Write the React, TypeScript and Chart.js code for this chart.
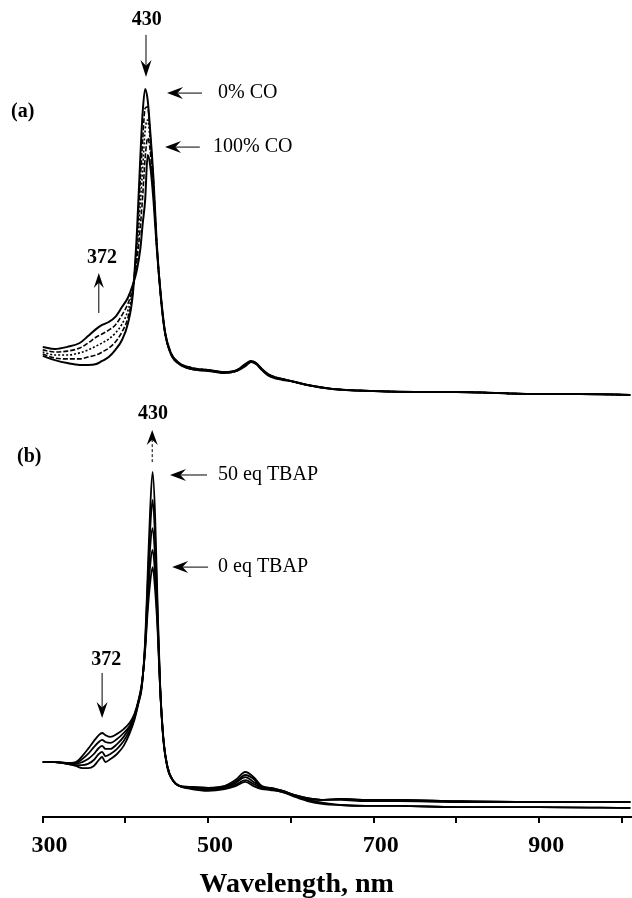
import React, { useEffect, useRef } from 'react';
import { Chart, registerables } from 'chart.js';

Chart.register(...registerables);

// ---------- Panel (a): CO titration, wavelength (nm) ----------
const waveA = [300, 315, 330, 345, 355, 365, 372, 380, 388, 396, 403, 409, 414, 418, 421, 424, 427, 430, 434, 438, 443, 448, 455, 465, 480, 500, 520, 535, 545, 552, 558, 565, 572, 580, 590, 600, 620, 650, 700, 750, 800, 850, 900, 950, 1010];
// relative absorbance (arbitrary units)
const co0 = [14.7, 13.3, 12.3, 11.7, 11.7, 12.0, 13.0, 14.3, 16.7, 20.0, 25.3, 35.0, 55.7, 80.0, 96.0, 103.7, 100.0, 90.0, 74.0, 52.3, 34.0, 22.3, 15.3, 12.0, 10.3, 9.7, 9.0, 9.7, 11.3, 12.7, 12.0, 10.0, 8.3, 7.3, 6.7, 6.3, 5.0, 3.7, 3.0, 2.7, 2.7, 2.3, 2.0, 2.0, 1.7];
const co25 = [15.3, 14.0, 13.7, 13.7, 14.3, 15.0, 16.0, 17.3, 19.3, 22.7, 27.3, 36.0, 52.7, 72.7, 86.7, 97.3, 97.7, 89.0, 73.0, 52.0, 34.0, 22.3, 15.3, 12.0, 10.3, 9.7, 9.0, 9.7, 11.7, 12.7, 12.0, 10.0, 8.3, 7.3, 7.0, 6.3, 5.0, 3.7, 3.0, 2.7, 2.7, 2.3, 2.0, 2.0, 1.7];
const co50 = [16.0, 15.0, 15.0, 15.7, 16.7, 18.0, 19.0, 20.3, 22.3, 25.3, 29.7, 36.7, 49.3, 65.0, 77.3, 90.0, 93.3, 86.7, 71.3, 51.7, 34.3, 22.3, 15.7, 12.3, 10.7, 10.0, 9.3, 10.0, 11.7, 13.0, 12.3, 10.3, 8.7, 7.7, 7.0, 6.3, 5.0, 3.7, 3.0, 2.7, 2.7, 2.3, 2.0, 2.0, 1.7];
const co75 = [16.7, 16.0, 16.3, 17.3, 19.0, 21.0, 22.0, 23.3, 25.0, 28.3, 32.0, 37.3, 46.3, 57.3, 68.0, 80.7, 87.3, 83.3, 69.3, 51.3, 34.3, 22.7, 15.7, 12.3, 10.7, 10.0, 9.3, 10.0, 12.0, 13.0, 12.3, 10.3, 8.7, 7.7, 7.0, 6.3, 5.0, 3.7, 3.0, 2.7, 2.7, 2.3, 2.0, 2.0, 1.7];
const co100 = [17.7, 17.0, 17.7, 19.0, 21.3, 23.7, 25.0, 26.0, 27.7, 31.0, 34.0, 38.3, 43.3, 50.0, 58.7, 66.7, 81.7, 78.3, 66.7, 50.7, 34.7, 22.7, 15.7, 12.3, 10.7, 10.0, 9.3, 10.0, 12.0, 13.0, 12.3, 10.3, 8.7, 7.7, 7.0, 6.3, 5.0, 3.7, 3.0, 2.7, 2.7, 2.3, 2.0, 2.0, 1.7];

// ---------- Panel (b): TBAP titration ----------
const waveB = [300, 315, 330, 340, 348, 355, 362, 368, 372, 376, 382, 390, 398, 405, 411, 416, 420, 424, 427, 430, 433, 436, 439, 442, 446, 451, 458, 466, 480, 500, 520, 533, 545, 555, 565, 575, 590, 605, 620, 640, 660, 690, 730, 800, 900, 1010];
const tbap0 = [18.3, 18.3, 18.0, 18.3, 20.3, 22.7, 25.3, 27.3, 28.0, 27.3, 26.7, 27.7, 29.3, 31.3, 34.3, 39.0, 44.7, 55.7, 68.3, 78.0, 83.3, 75.7, 62.3, 43.0, 25.7, 16.3, 12.0, 10.3, 9.3, 8.7, 9.3, 10.3, 11.7, 10.3, 9.3, 9.0, 8.3, 6.7, 5.3, 4.3, 4.0, 3.7, 3.7, 3.3, 3.3, 3.0];
const tbap1 = [18.3, 18.3, 18.0, 18.0, 19.3, 21.0, 23.3, 25.0, 25.7, 25.0, 24.7, 26.0, 28.0, 30.3, 34.0, 38.7, 44.3, 56.3, 71.3, 83.7, 89.0, 80.7, 64.0, 43.3, 25.7, 16.3, 12.0, 10.3, 9.7, 9.0, 9.7, 10.7, 12.3, 11.0, 9.7, 9.3, 8.3, 7.0, 5.7, 4.7, 4.0, 3.7, 3.7, 3.3, 3.3, 3.0];
const tbap2 = [18.3, 18.3, 18.0, 17.7, 18.3, 19.3, 21.0, 23.0, 23.7, 22.7, 22.7, 24.3, 26.7, 29.7, 33.3, 38.7, 44.0, 57.0, 74.3, 89.7, 96.3, 86.3, 66.0, 43.7, 26.0, 16.7, 12.0, 10.3, 9.7, 9.3, 10.0, 11.3, 13.3, 11.7, 10.0, 9.3, 8.7, 7.0, 6.0, 5.7, 5.7, 5.3, 5.3, 5.0, 5.0, 5.0];
const tbap3 = [18.3, 18.3, 17.7, 17.3, 17.3, 17.7, 19.0, 21.0, 21.7, 20.3, 21.0, 22.7, 25.3, 28.7, 33.0, 38.3, 43.7, 58.0, 77.3, 95.7, 105.7, 93.0, 68.3, 44.0, 26.0, 16.7, 12.0, 10.3, 10.0, 9.7, 10.3, 11.7, 14.0, 12.7, 10.0, 9.7, 8.7, 7.3, 6.3, 5.7, 6.0, 5.7, 5.7, 5.3, 5.0, 5.0];
const tbap50 = [18.3, 18.3, 17.7, 17.0, 16.3, 16.3, 17.0, 19.0, 20.0, 18.3, 19.3, 21.0, 23.7, 27.7, 32.3, 38.0, 43.3, 59.0, 80.7, 102.3, 115.0, 100.7, 70.7, 44.7, 26.3, 16.7, 12.0, 10.3, 10.0, 9.7, 10.3, 12.3, 15.0, 13.3, 10.3, 9.7, 8.7, 7.3, 6.3, 5.7, 6.0, 5.7, 5.7, 5.3, 5.0, 5.0];

// ---------- x axis ----------
const xTickValues = [300, 400, 500, 600, 700, 800, 900, 1000];
const xTickLabels = ['300', '', '500', '', '700', '', '900', ''];
const xTitle = 'Wavelength, nm';

// ---------- annotations (data coordinates: nm, panel value) ----------
type Txt = { text: string; x: number; y: number; panel: 'a' | 'b'; bold: boolean; size: number; align: CanvasTextAlign };
type Arr = { x1: number; y1: number; x2: number; y2: number; panel: 'a' | 'b'; dashed?: boolean; head: number; half: number };

const texts: Txt[] = [
  { text: '430', x: 426, y: 126.7, panel: 'a', bold: true, size: 20, align: 'center' },
  { text: '0% CO', x: 512, y: 102.3, panel: 'a', bold: false, size: 20, align: 'left' },
  { text: '100% CO', x: 506, y: 84.3, panel: 'a', bold: false, size: 20, align: 'left' },
  { text: '(a)', x: 276, y: 96, panel: 'a', bold: true, size: 20, align: 'center' },
  { text: '372', x: 372, y: 47.3, panel: 'a', bold: true, size: 20, align: 'center' },
  { text: '430', x: 433.5, y: 134.3, panel: 'b', bold: true, size: 20, align: 'center' },
  { text: '50 eq TBAP', x: 512, y: 114, panel: 'b', bold: false, size: 20, align: 'left' },
  { text: '0 eq TBAP', x: 512, y: 83.3, panel: 'b', bold: false, size: 20, align: 'left' },
  { text: '(b)', x: 284, y: 120, panel: 'b', bold: true, size: 20, align: 'center' },
  { text: '372', x: 377, y: 52.3, panel: 'b', bold: true, size: 20, align: 'center' },
];

const arrows: Arr[] = [
  { x1: 425, y1: 121.7, x2: 425, y2: 107.7, panel: 'a', head: 17, half: 5.5 },
  { x1: 492.6, y1: 102.3, x2: 450.4, y2: 102.3, panel: 'a', head: 16, half: 6 },
  { x1: 490, y1: 84.3, x2: 448, y2: 84.3, panel: 'a', head: 16, half: 6 },
  { x1: 368, y1: 29, x2: 368, y2: 42.3, panel: 'a', head: 15, half: 5 },
  { x1: 432.5, y1: 118.3, x2: 432.5, y2: 129, panel: 'b', dashed: true, head: 15, half: 5.5 },
  { x1: 498.7, y1: 114, x2: 454, y2: 114, panel: 'b', head: 16, half: 6 },
  { x1: 500, y1: 83.3, x2: 456.6, y2: 83.3, panel: 'b', head: 16, half: 6 },
  { x1: 372, y1: 48, x2: 372, y2: 33, panel: 'b', head: 16, half: 5.5 },
];

const SERIF = '"Liberation Serif", "Times New Roman", serif';

const annotPlugin = {
  id: 'annot',
  afterDraw(chart: any) {
    const ctx: CanvasRenderingContext2D = chart.ctx;
    const xs = chart.scales.x;
    const ys: any = { a: chart.scales.yA, b: chart.scales.yB };
    ctx.save();
    ctx.fillStyle = '#000';
    ctx.strokeStyle = '#000';
    ctx.textBaseline = 'middle';
    for (const t of texts) {
      ctx.font = `${t.bold ? 'bold ' : ''}${t.size}px ${SERIF}`;
      ctx.textAlign = t.align;
      ctx.fillText(t.text, xs.getPixelForValue(t.x), ys[t.panel].getPixelForValue(t.y));
    }
    for (const a of arrows) {
      const x1 = xs.getPixelForValue(a.x1), y1 = ys[a.panel].getPixelForValue(a.y1);
      const x2 = xs.getPixelForValue(a.x2), y2 = ys[a.panel].getPixelForValue(a.y2);
      const len = Math.hypot(x2 - x1, y2 - y1);
      const dx = (x2 - x1) / len, dy = (y2 - y1) / len;
      const nx = -dy, ny = dx;
      const bx = x2 - dx * a.head, by = y2 - dy * a.head;
      const mx = x2 - dx * a.head * 0.65, my = y2 - dy * a.head * 0.65;
      ctx.lineWidth = 1;
      ctx.setLineDash(a.dashed ? [3, 2] : []);
      ctx.beginPath();
      ctx.moveTo(x1, y1);
      ctx.lineTo(mx, my);
      ctx.stroke();
      ctx.setLineDash([]);
      ctx.beginPath();
      ctx.moveTo(x2, y2);
      ctx.lineTo(bx + nx * a.half, by + ny * a.half);
      ctx.lineTo(mx, my);
      ctx.lineTo(bx - nx * a.half, by - ny * a.half);
      ctx.closePath();
      ctx.fill();
    }
    // axis title
    ctx.font = `bold 28px ${SERIF}`;
    ctx.textAlign = 'center';
    ctx.textBaseline = 'alphabetic';
    ctx.fillText(xTitle, xs.getPixelForValue(607), chart.chartArea.bottom + 75);
    ctx.restore();
  },
};

function series(xs: number[], ys: number[]) {
  return xs.map((x, i) => ({ x, y: ys[i] }));
}

export default function App() {
  const ref = useRef<HTMLCanvasElement | null>(null);
  useEffect(() => {
    document.body.style.margin = '0';
    if (!ref.current) return;
    const mk = (data: number[], wave: number[], axis: string, dash: number[] = [], w = 1.8) => ({
      data: series(wave, data),
      yAxisID: axis,
      borderColor: '#000',
      borderWidth: w,
      borderDash: dash,
      pointRadius: 0,
      fill: false,
      cubicInterpolationMode: 'monotone' as const,
    });
    const chart = new Chart(ref.current, {
      type: 'line',
      data: {
        datasets: [
          mk(co0, waveA, 'yA', [], 2),
          mk(co25, waveA, 'yA', [5, 2], 1.6),
          mk(co50, waveA, 'yA', [2, 2], 1.6),
          mk(co75, waveA, 'yA', [5, 2], 1.6),
          mk(co100, waveA, 'yA', [], 2),
          mk(tbap0, waveB, 'yB'),
          mk(tbap1, waveB, 'yB'),
          mk(tbap2, waveB, 'yB'),
          mk(tbap3, waveB, 'yB'),
          mk(tbap50, waveB, 'yB'),
        ] as any,
      },
      options: {
        animation: false,
        responsive: false,
        maintainAspectRatio: false,
        layout: { padding: { left: 42.5, right: 0, top: 0, bottom: 0 } },
        plugins: { legend: { display: false }, tooltip: { enabled: false } },
        scales: {
          x: {
            type: 'linear',
            min: 300,
            max: 1012,
            afterBuildTicks: (s: any) => {
              s.ticks = xTickValues.map((v) => ({ value: v }));
            },
            afterFit: (s: any) => {
              s.height = 81;
            },
            ticks: {
              autoSkip: false,
              maxRotation: 0,
              padding: 8,
              labelOffset: 7,
              color: '#000',
              font: { family: SERIF, size: 24, weight: 'bold' },
              callback: (_v: any, i: number) => xTickLabels[i],
            },
            grid: { drawOnChartArea: false, drawTicks: true, tickLength: 6, color: '#000', lineWidth: 2 },
            border: { display: true, color: '#000', width: 2 },
          },
          yA: { type: 'linear', display: false, min: -139, max: 133.33 },
          yB: { type: 'linear', display: false, min: 0, max: 272.33 },
        },
      } as any,
      plugins: [annotPlugin],
    });
    return () => chart.destroy();
  }, []);
  return <canvas ref={ref} width={632} height={898} style={{ display: 'block' }} />;
}
